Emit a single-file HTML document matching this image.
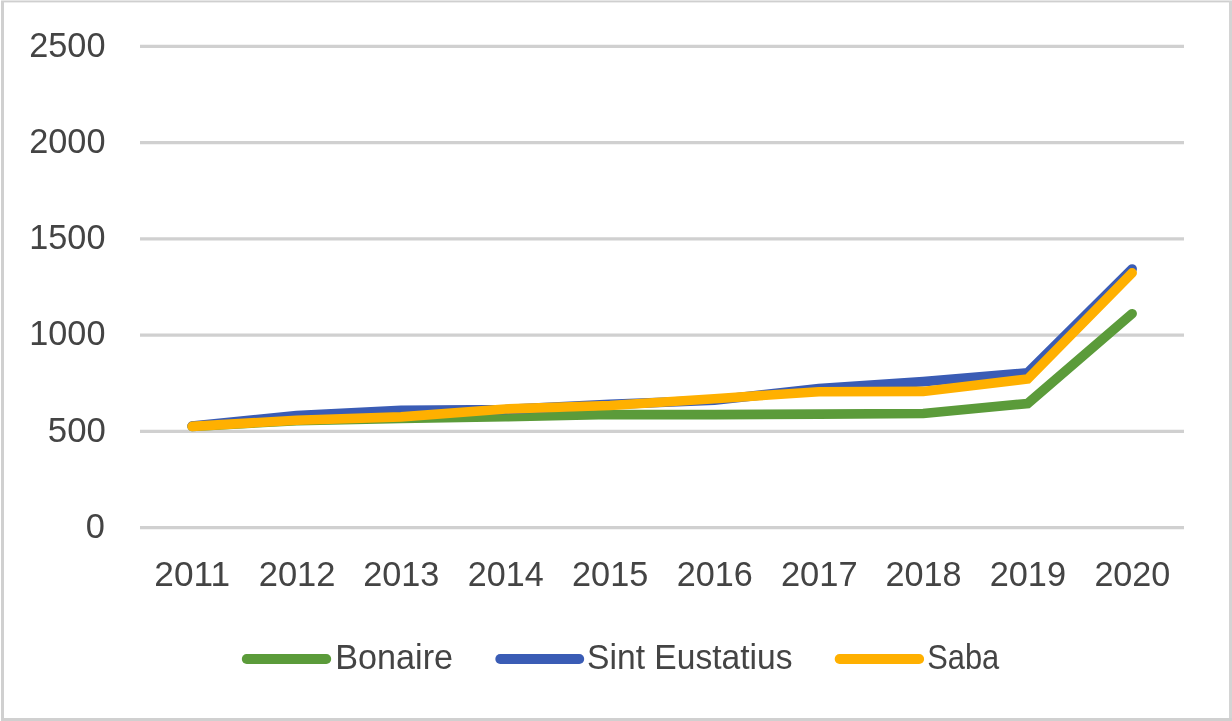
<!DOCTYPE html>
<html><head><meta charset="utf-8"><style>
html,body{margin:0;padding:0;background:#fff;}
body{width:1232px;height:721px;overflow:hidden;position:relative;}
svg{position:absolute;left:0;top:0;display:block;will-change:transform;}
text{font-family:"Liberation Sans",sans-serif;fill:#444444;font-size:35px;}
</style></head><body>
<svg width="1232" height="721" viewBox="0 0 1232 721">
<rect x="1" y="0" width="1231" height="1" fill="#e6e6e6"/><rect x="1" y="1" width="1231" height="1" fill="#cfcfcf"/><rect x="1" y="2" width="1231" height="1" fill="#ececec"/><rect x="1" y="1" width="3" height="720" fill="#d0d0d0"/><rect x="1229" y="1" width="3" height="720" fill="#d4d4d4"/><rect x="1" y="718" width="1231" height="3" fill="#d0d0d0"/>
<g stroke="#d0d0d0" stroke-width="3.3"><line x1="140" y1="46.30" x2="1184" y2="46.30"/><line x1="140" y1="142.55" x2="1184" y2="142.55"/><line x1="140" y1="238.80" x2="1184" y2="238.80"/><line x1="140" y1="335.05" x2="1184" y2="335.05"/><line x1="140" y1="431.30" x2="1184" y2="431.30"/><line x1="140" y1="527.55" x2="1184" y2="527.55"/></g>
<g><text x="29.19" y="56.80" textLength="76.27" lengthAdjust="spacingAndGlyphs">2500</text><text x="29.19" y="153.00" textLength="76.27" lengthAdjust="spacingAndGlyphs">2000</text><text x="29.32" y="249.20" textLength="76.11" lengthAdjust="spacingAndGlyphs">1500</text><text x="29.32" y="345.40" textLength="76.11" lengthAdjust="spacingAndGlyphs">1000</text><text x="47.81" y="441.60" textLength="58.01" lengthAdjust="spacingAndGlyphs">500</text><text x="85.80" y="537.80" textLength="19.12" lengthAdjust="spacingAndGlyphs">0</text><text x="154.37" y="585.90" textLength="75.77" lengthAdjust="spacingAndGlyphs">2011</text><text x="258.76" y="585.90" textLength="76.75" lengthAdjust="spacingAndGlyphs">2012</text><text x="363.21" y="585.90" textLength="76.18" lengthAdjust="spacingAndGlyphs">2013</text><text x="467.84" y="585.90" textLength="75.81" lengthAdjust="spacingAndGlyphs">2014</text><text x="572.07" y="585.90" textLength="76.20" lengthAdjust="spacingAndGlyphs">2015</text><text x="676.76" y="585.90" textLength="76.08" lengthAdjust="spacingAndGlyphs">2016</text><text x="780.88" y="585.90" textLength="76.70" lengthAdjust="spacingAndGlyphs">2017</text><text x="885.46" y="585.90" textLength="76.14" lengthAdjust="spacingAndGlyphs">2018</text><text x="989.70" y="585.90" textLength="76.34" lengthAdjust="spacingAndGlyphs">2019</text><text x="1094.39" y="585.90" textLength="76.01" lengthAdjust="spacingAndGlyphs">2020</text><text x="335.32" y="669.00" textLength="117.69" lengthAdjust="spacingAndGlyphs">Bonaire</text><text x="587.12" y="669.00" textLength="205.43" lengthAdjust="spacingAndGlyphs">Sint Eustatius</text><text x="927.21" y="669.00" textLength="72.00" lengthAdjust="spacingAndGlyphs">Saba</text></g>
<g fill="none" stroke-width="9.6" stroke-linecap="round" stroke-linejoin="miter">
<polyline points="192.10,426.40 296.55,420.70 401.00,418.50 505.45,416.75 609.90,414.50 714.35,414.60 818.80,414.10 923.25,413.50 1027.70,403.50 1132.15,313.70" stroke="#5b9b3a"/>
<polyline points="192.10,426.00 296.55,415.60 401.00,410.40 505.45,409.50 609.90,404.40 714.35,400.30 818.80,388.50 923.25,381.60 1027.70,372.70 1132.15,269.00" stroke="#3a5cb5"/>
<polyline points="192.10,426.40 296.55,420.30 401.00,416.90 505.45,409.00 609.90,405.50 714.35,398.70 818.80,391.80 923.25,391.40 1027.70,379.00 1132.15,272.90" stroke="#ffb000"/>
</g>
<g stroke-width="9.8" stroke-linecap="round"><line x1="246.70" y1="659.00" x2="326.30" y2="659.00" stroke="#5b9b3a"/><line x1="500.20" y1="659.00" x2="579.30" y2="659.00" stroke="#3a5cb5"/><line x1="839.60" y1="659.00" x2="919.20" y2="659.00" stroke="#ffb000"/></g>
</svg>
</body></html>
